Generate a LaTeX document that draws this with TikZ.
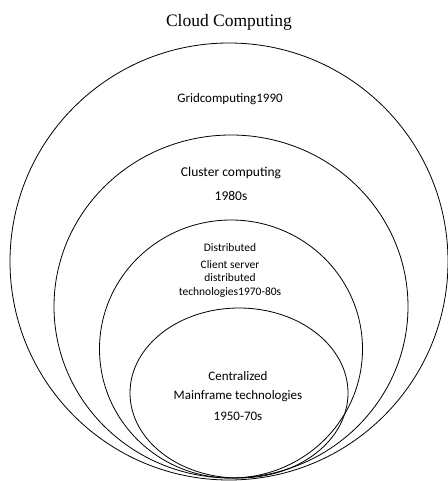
\documentclass[tikz,border=0pt]{standalone}
\usepackage{fontspec}
\setmainfont{Carlito}
\newfontfamily\titlefont{Liberation Serif}

\begin{document}
\begin{tikzpicture}[x=1pt, y=-1pt, line width=0.8pt,
    ring/.style={draw=black},
    label/.style={inner sep=0pt, anchor=center}]
    \useasboundingbox (0,0) rectangle (447,481);

    % nested eras, all touching at the bottom
    \draw [ring] (229,261.5) ellipse [x radius=219, y radius=218.5];
    \draw [ring] (231,306.5) ellipse [x radius=177, y radius=171.5];
    \draw [ring] (231,349) ellipse [x radius=131.5, y radius=129];
    \draw [ring] (239,393) ellipse [x radius=109, y radius=85];

    \node [label, font=\titlefont\fontsize{17.5}{20}\selectfont] (title) at (229,22) {Cloud Computing};

    \node [label, font=\fontsize{13}{15}\selectfont] (grid) at (230,99) {Gridcomputing1990};

    \node [label, font=\fontsize{13.5}{16}\selectfont] (cluster) at (231,173) {Cluster computing};
    \node [label, font=\fontsize{13.5}{16}\selectfont] (clusteryear) at (231,196) {1980s};

    \node [label, font=\fontsize{11.5}{13}\selectfont] (dist) at (230,248) {Distributed};
    \node [label, font=\fontsize{11.5}{13}\selectfont] (client) at (230,265) {Client server};
    \node [label, font=\fontsize{11.5}{13}\selectfont] (distb) at (230,278) {distributed};
    \node [label, font=\fontsize{11.5}{13}\selectfont] (disttech) at (230,292) {technologies1970-80s};

    \node [label, font=\fontsize{13}{15}\selectfont] (central) at (238,376) {Centralized};
    \node [label, font=\fontsize{13}{15}\selectfont] (mainframe) at (238,396) {Mainframe technologies};
    \node [label, font=\fontsize{13}{15}\selectfont] (mainyear) at (238,416) {1950-70s};
\end{tikzpicture}
\end{document}
